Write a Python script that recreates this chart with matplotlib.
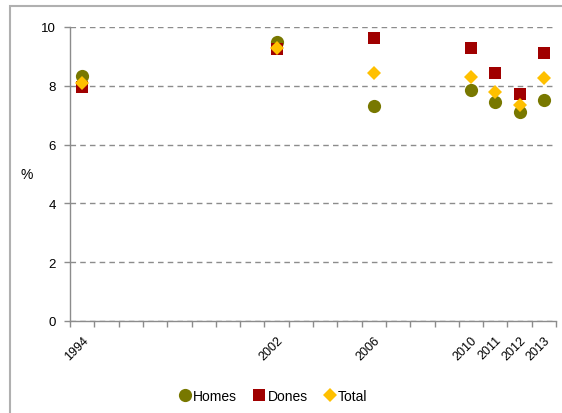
import matplotlib
matplotlib.use("Agg")
import matplotlib.pyplot as plt
from matplotlib.patches import Rectangle
import numpy as np

plt.rcParams['font.family'] = ['Liberation Sans', 'DejaVu Sans']

years = [1994, 2002, 2006, 2010, 2011, 2012, 2013]
year_labels = ['1994', '2002', '2006', '2010', '2011', '2012', '2013']
homes = [8.34, 9.48, 7.32, 7.85, 7.44, 7.10, 7.53]
dones = [7.95, 9.25, 9.64, 9.28, 8.44, 7.72, 9.13]
total = [8.08, 9.28, 8.44, 8.31, 7.79, 7.36, 8.25]

fig = plt.figure(figsize=(5.62, 4.14), dpi=100)
ax = fig.add_axes([70/562, 92/414, 486/562, 294/414])

# outer border (extends beyond the right and bottom edges)
fig.patches.append(Rectangle((10/562, -0.2), 1.2, 1.2 - 7/414, transform=fig.transFigure,
                             fill=False, edgecolor='#B0B0B0', linewidth=1.5, zorder=0))

ms = 9.5
ax.plot(years, homes, 'o', color='#787800', markersize=ms, label='Homes', zorder=3,
        markeredgewidth=0)
ax.plot(years, dones, 's', color='#A00000', markersize=ms*0.95, label='Dones', zorder=4,
        markeredgewidth=0)
ax.plot(years, total, 'D', color='#FFC000', markersize=ms*0.72, label='Total', zorder=5,
        markeredgewidth=0)

ax.set_xlim(1993.5, 2013.5)
ax.set_ylim(0, 10)
ax.set_yticks([0, 2, 4, 6, 8, 10])
ax.yaxis.grid(True, linestyle=(0, (4, 3)), color='#8C8C8C', linewidth=1)
ax.set_axisbelow(True)

ax.set_xticks(years)
ax.set_xticklabels(year_labels, rotation=45, ha='right', rotation_mode='anchor', fontsize=9)
ax.set_xticks(np.arange(1993.5, 2014, 1), minor=True)
ax.tick_params(axis='x', which='major', length=0, pad=9)
ax.tick_params(axis='x', which='minor', length=4, color='#8C8C8C', width=1)
ax.tick_params(axis='y', length=4, color='#8C8C8C', width=1, labelsize=9.5, pad=6)

for s in ['top', 'right']:
    ax.spines[s].set_visible(False)
for s in ['left', 'bottom']:
    ax.spines[s].set_color('#8C8C8C')
    ax.spines[s].set_linewidth(1)

fig.text(27/562, 1 - 175/414, '%', fontsize=10, ha='center', va='center')

fig.legend(loc='center', bbox_to_anchor=(272/562, 1 - 397/414), ncol=3, frameon=False,
           fontsize=10, handletextpad=0.0, columnspacing=1.0, handlelength=1.2,
           borderaxespad=0)

fig.savefig('out.png', dpi=100)
